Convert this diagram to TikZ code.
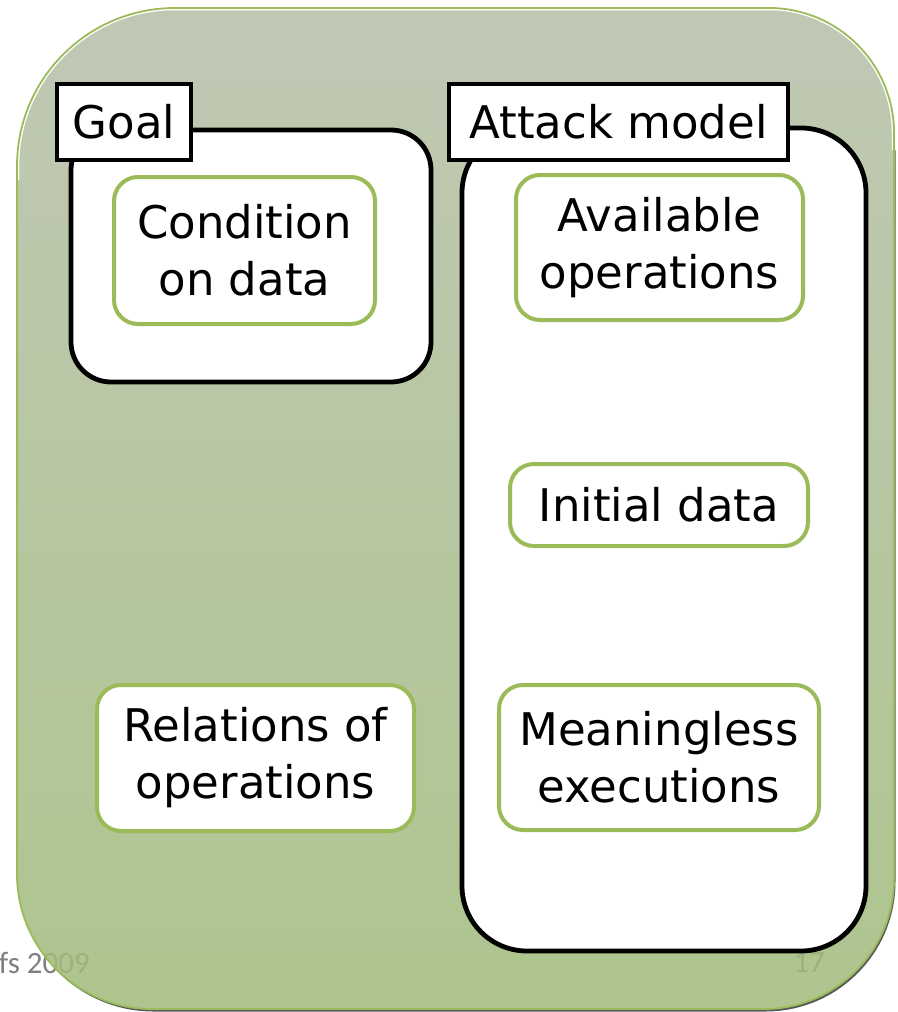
\documentclass[tikz,border=0pt]{standalone}
\usepackage{fontspec}
\setmainfont{DejaVu Sans}
\newfontfamily\footfont{Carlito}
\definecolor{gborder}{HTML}{9BBB59}
\definecolor{gtop}{RGB}{181,191,168}
\definecolor{gbot}{RGB}{160,188,123}
\definecolor{footgray}{HTML}{7F7F7F}
\newcommand{\panelshape}{(17,166) .. controls (17,78.8) and (87.8,8) .. (175,8) -- (769,8) .. controls (838,8) and (894,64) .. (894,133) -- (894,879) .. controls (894,950.8) and (835.8,1009) .. (764,1009) -- (152,1009) .. controls (77.5,1009) and (17,948.5) .. (17,874) -- cycle}
\newcommand{\paneltop}{(17,180) -- (17,166) .. controls (17,78.8) and (87.8,8) .. (175,8) -- (769,8) .. controls (838,8) and (894,64) .. (894,133) -- (894,150)}
\tikzset{
  greenbox/.style={draw=gborder, line width=4pt, fill=white, rounded corners=24pt,
    align=center, inner sep=0pt, font=\fontsize{45}{57}\selectfont},
  labelbox/.style={draw=black, line width=4.5pt, fill=white, inner sep=0pt,
    font=\fontsize{45}{57}\selectfont},
  container/.style={draw=black, line width=4.8pt, fill=white},
  foottext/.style={font=\footfont\fontsize{31}{34}\selectfont, text=footgray, inner sep=0pt}
}
\begin{document}
\begin{tikzpicture}[x=1pt,y=-1pt]
\useasboundingbox (0,0) rectangle (897,1012);
% shadow and base
\begin{scope}[shift={(1.5,2.5)}]
  \fill[black!65] \panelshape;
\end{scope}
\fill[white] \panelshape;
% footer texts (behind the panel)
\node[foottext, anchor=base east] (foot) at (90,973) {fs 2009};
\node[foottext, anchor=base east] (page) at (825,972) {17};
% panel
\shade[top color=gtop, bottom color=gbot, fill opacity=0.85] \panelshape;
\draw[white, line width=4.5pt, line join=round] \paneltop;
\draw[gborder, line width=1.8pt] \panelshape;
% containers
\draw[container, rounded corners=40pt] (71,130) rectangle (431,382);
\draw[container, rounded corners=65pt] (462,128) rectangle (866,951);
% labels
\node[labelbox, minimum width=134pt, minimum height=76pt] (goal) at (124,122) {Goal};
\node[labelbox, minimum width=339pt, minimum height=76pt] (attack) at (618.5,122) {Attack model};
% green boxes
\node[greenbox, minimum width=261pt, minimum height=147pt] (cond) at (244.5,250.5) {Condition\\on data};
\node[greenbox, minimum width=287pt, minimum height=145pt] (avail) at (659.5,247.5) {Available\\operations};
\node[greenbox, minimum width=298pt, minimum height=82pt] (init) at (659,505) {Initial data};
\node[greenbox, minimum width=317pt, minimum height=146pt] (rel) at (255.5,758) {Relations of\\operations};
\node[greenbox, minimum width=320pt, minimum height=145pt] (mean) at (659,757.5) {Meaningless\\executions};
\end{tikzpicture}
\end{document}
